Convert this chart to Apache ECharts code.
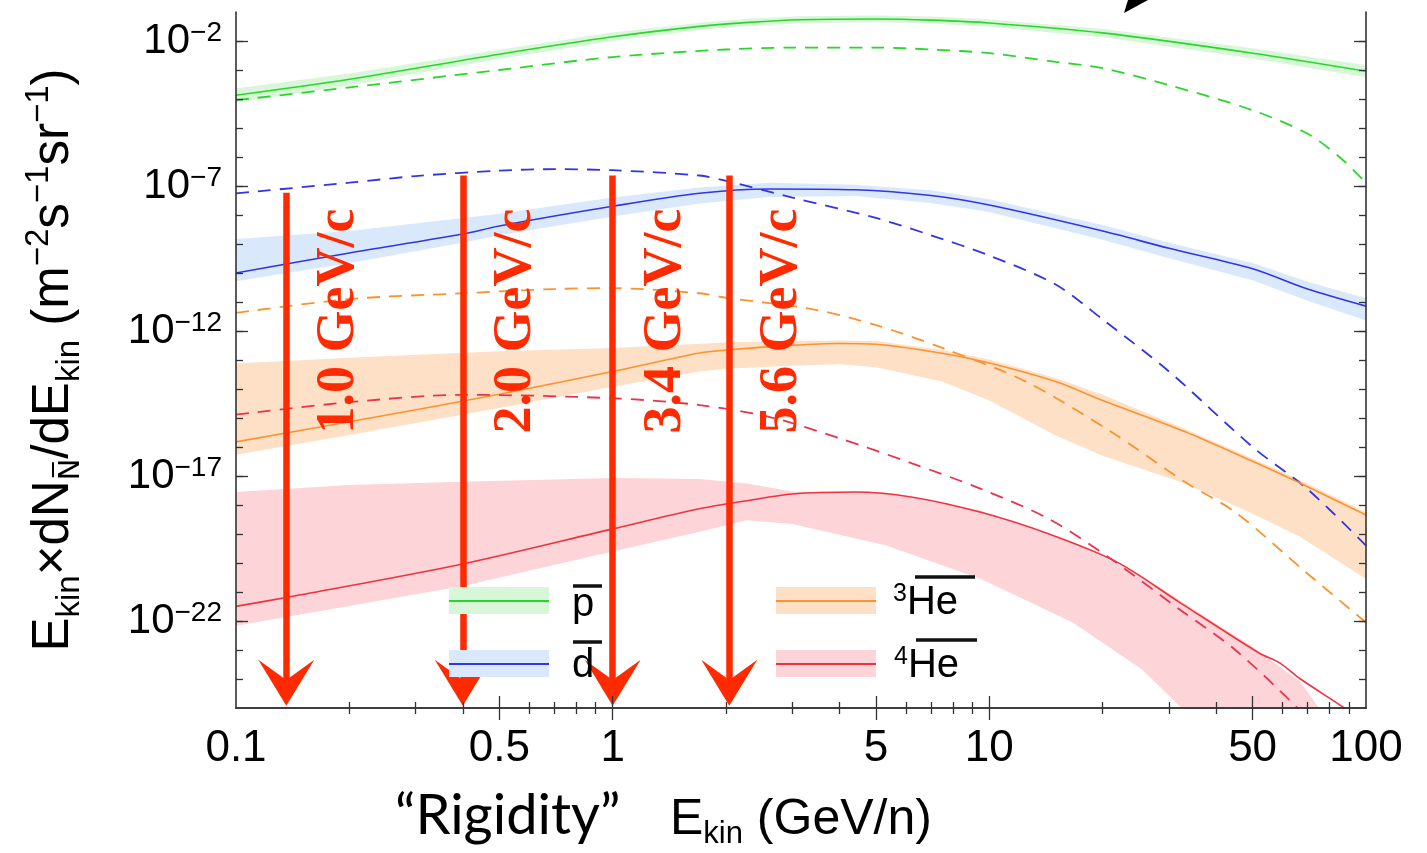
<!DOCTYPE html>
<html>
<head>
<meta charset="utf-8">
<title>Antinuclei flux</title>
<script src="https://cdn.jsdelivr.net/npm/echarts@6/dist/echarts.min.js"></script>
<style>
  html, body { margin: 0; padding: 0; background: #fff; }
  #chart { width: 1427px; height: 853px; }
</style>
</head>
<body>
<div id="chart"></div>
<script>
// ---- data (E_kin in GeV/n, flux in m^-2 s^-1 sr^-1) ----
// antiproton
const pbarE    = [0.1, 0.2, 0.5, 1, 1.7, 2.3, 3.14, 5, 7, 10, 20, 50, 100];
const pbarMain = [1.35e-4, 4.8e-4, 3.5e-3, 1.4e-2, 3.2e-2, 4.4e-2, 5.4e-2, 5.75e-2, 5.25e-2, 4.2e-2, 1.9e-2, 3.8e-3, 9.1e-4];
const pbarLo   = [7.6e-5, 3.0e-4, 2.4e-3, 1.0e-2, 2.4e-2, 3.3e-2, 4.1e-2, 4.4e-2, 4.0e-2, 3.1e-2, 1.35e-2, 2.5e-3, 5.6e-4];
const pbarHi   = [2.3e-4, 7.6e-4, 5.0e-3, 1.95e-2, 4.3e-2, 5.8e-2, 7.1e-2, 7.6e-2, 7.0e-2, 5.5e-2, 2.6e-2, 5.6e-3, 1.45e-3];
const pbarDashE = [0.1, 0.2, 0.5, 1, 2, 3, 5, 7, 10, 15, 20, 30, 50, 70, 85, 100];
const pbarDash  = [9.1e-5, 2.5e-4, 1.0e-3, 2.8e-3, 5.1e-3, 5.9e-3, 5.9e-3, 5.1e-3, 3.8e-3, 1.9e-3, 1.15e-3, 3.0e-4, 4.1e-5, 6.3e-6, 1.0e-6, 1.3e-7];

// antideuteron
const dbarE    = [0.1, 0.2, 0.4, 0.5, 1, 1.7, 2.6, 4.4, 7, 10, 20, 30, 50, 70, 100];
const dbarMain = [1.0e-10, 4.9e-10, 2.2e-9, 4.2e-9, 2.0e-8, 5.6e-8, 7.9e-8, 7.4e-8, 4.7e-8, 2.2e-8, 2.8e-9, 7.1e-10, 1.4e-10, 2.8e-11, 7.2e-12];
const dbarLo   = [5.2e-11, 2.2e-10, 1.1e-9, 2.0e-9, 8.9e-9, 2.5e-8, 4.2e-8, 4.5e-8, 2.6e-8, 1.26e-8, 1.4e-9, 3.2e-10, 5.6e-11, 1.1e-11, 2.3e-12];
const dbarHi   = [1.5e-9, 2.8e-9, 7.9e-9, 1.1e-8, 4.0e-8, 8.9e-8, 1.3e-7, 1.1e-7, 7.1e-8, 3.5e-8, 4.5e-9, 1.1e-9, 2.2e-10, 5.0e-11, 1.35e-11];
const dbarDashE = [0.1, 0.2, 0.3, 0.5, 0.7, 1, 1.7, 2, 3, 5, 7, 10, 15, 20, 30, 50, 70, 100];
const dbarDash  = [5.6e-8, 1.3e-7, 2.2e-7, 3.4e-7, 3.8e-7, 3.5e-7, 2.3e-7, 1.5e-7, 4.0e-8, 7.9e-9, 2.0e-9, 4.0e-10, 4.0e-11, 2.5e-12, 4.0e-14, 1.0e-16, 3.5e-18, 4.0e-20];

// antihelium-3
const he3E    = [0.1, 0.2, 0.5, 1, 1.7, 2, 3, 4, 5, 7.5, 10, 15, 20, 33, 50, 67, 100];
const he3Main = [1.5e-16, 7.4e-16, 6.6e-15, 4.0e-14, 1.74e-13, 2.2e-13, 3.2e-13, 3.7e-13, 3.5e-13, 1.7e-13, 7.9e-14, 1.8e-14, 4.0e-15, 3.4e-16, 3.2e-17, 5.6e-18, 4.5e-19];
const he3Lo   = [5.4e-17, 2.6e-16, 2.2e-15, 1.2e-14, 4.0e-14, 5.0e-14, 6.3e-14, 7.1e-14, 5.6e-14, 1.8e-14, 4.0e-15, 2.5e-16, 5.0e-17, 5.6e-18, 5.0e-19, 7.9e-20, 2.8e-21];
const he3Hi   = [7.6e-14, 1.2e-13, 2.0e-13, 2.6e-13, 3.6e-13, 4.0e-13, 4.5e-13, 4.7e-13, 4.5e-13, 2.2e-13, 1.05e-13, 2.4e-14, 6.3e-15, 4.3e-16, 4.0e-17, 7.1e-18, 5.6e-19];
const he3DashE = [0.1, 0.2, 0.4, 0.7, 1, 1.7, 2, 3.4, 5, 7.5, 12.5, 21, 33, 45, 69, 100];
const he3Dash  = [4.2e-12, 1.26e-11, 2.0e-11, 2.8e-11, 3.0e-11, 2.0e-11, 1.4e-11, 5.6e-12, 1.6e-12, 2.6e-13, 1.8e-14, 3.4e-16, 6.3e-18, 5.6e-19, 5.0e-21, 8.9e-23];

// antihelium-4
const he4E    = [0.1, 0.136, 0.4, 1, 1.7, 2.27, 3, 4.4, 6.2, 9.5, 14.4, 21.9, 32, 52, 59, 67, 90, 100];
const he4Main = [3.2e-22, 6.5e-22, 9.3e-21, 1.5e-19, 7.4e-19, 1.4e-18, 2.4e-18, 2.8e-18, 1.9e-18, 5.6e-19, 1.0e-19, 1.05e-20, 4.4e-22, 7.9e-24, 3.6e-24, 1.0e-24, 7.9e-26, 2.5e-26];
const he4BandE = [0.1, 0.2, 0.4, 1, 1.7, 2.27, 3, 5.3, 9.5, 16.7, 25.5, 33, 50, 67, 80];
const he4Lo    = [6.9e-23, 3.3e-22, 1.6e-21, 2.5e-20, 1.2e-19, 3.0e-19, 2.2e-19, 4.1e-20, 2.8e-21, 8.7e-23, 2.1e-24, 7.9e-26, 3.2e-28, 1e-30, 1e-31];
const he4Hi    = [2.8e-18, 4.9e-18, 6.3e-18, 8.5e-18, 7.9e-18, 5.5e-18, 2.9e-18, 2.7e-18, 6.3e-19, 5.0e-20, 3.5e-21, 4.0e-22, 1.26e-23, 7.9e-25, 3.0e-26];
const he4DashE = [0.1, 0.2, 0.4, 1, 1.7, 2.6, 4, 6.2, 9.5, 14.4, 21, 32, 45, 67, 100];
const he4Dash  = [1.3e-15, 3.5e-15, 6.3e-15, 4.8e-15, 2.8e-15, 1.1e-15, 2.0e-16, 2.8e-17, 3.6e-18, 3.3e-19, 1.4e-20, 2.5e-22, 1.0e-23, 7.9e-26, 3.2e-28];

// rigidity arrows (E_kin/n of 4He-bar at the given rigidity)
const arrowE      = [0.136, 0.40, 1.0, 2.04];
const arrowTop    = [5.9e-8, 2.3e-7, 2.3e-7, 2.3e-7];
const arrowEnd    = 7.4e-25;
const arrowLabelY = 2.2e-12;
const arrowLabels = ['1.0 GeV/c', '2.0 GeV/c', '3.4 GeV/c', '5.6 GeV/c'];

// ticks
const xLabelVals = [0.1, 0.5, 1, 5, 10, 50, 100];
const xMajorTicks = [0.5, 1, 5, 10, 50];
const xMinorTicks = [0.2, 0.3, 0.4, 0.6, 0.7, 0.8, 0.9, 2, 3, 4, 6, 7, 8, 9, 20, 30, 40, 60, 70, 80, 90];
const yLabelExps = [-2, -7, -12, -17, -22];
const yTickExps = [-24, -23, -22, -21, -20, -19, -18, -17, -16, -15, -14, -13, -12, -11, -10, -9, -8, -7, -6, -5, -4, -3, -2];

// ---- styles ----
const SANS = '"Liberation Sans", Arial, sans-serif';
const AX = '#333';
const RED_ARROW = '#ff2a00';
const ARROW_HEAD = 'path://M50,0 L100,100 L50,56 L0,100 Z';
const colors = {
  pbar: { line: '#2bd62b', band: '#d8f6d8' },
  dbar: { line: '#3434e2', band: '#d9e9fb' },
  he3:  { line: '#fa9330', band: '#fde0c6' },
  he4:  { line: '#ee3340', band: '#fdd4d7' }
};

const pow10 = e => Math.pow(10, e);
const zip = (xs, ys) => xs.map((x, i) => [x, ys[i]]);

function bandSeries(name, xs, lo, hi, fill) {
  return {
    type: 'custom',
    name: name,
    clip: true,
    silent: true,
    z: 1,
    data: xs.map((x, i) => [x, lo[i], hi[i]]),
    encode: { x: 0, y: [1, 2] },
    renderItem: function (params, api) {
      if (params.dataIndex !== 0) return null;
      const top = xs.map((x, i) => api.coord([x, hi[i]]));
      const bot = xs.map((x, i) => api.coord([x, lo[i]])).reverse();
      return {
        type: 'polygon',
        shape: { points: top.concat(bot) },
        style: { fill: fill, stroke: null }
      };
    }
  };
}

function lineSeries(name, xs, ys, color, dashed) {
  return {
    type: 'line',
    name: name,
    data: zip(xs, ys),
    showSymbol: false,
    smooth: 0.3,
    clip: true,
    z: 3,
    lineStyle: { color: color, width: dashed ? 1.8 : 1.6, type: dashed ? [13, 9] : 'solid' }
  };
}

function xAxisDef(position, ticks, len, withLabels) {
  return {
    type: 'log', logBase: 10, min: 0.1, max: 100, position: position, z: 10,
    axisLine: { show: len < 10, lineStyle: { color: AX, width: 1.6 } },
    axisTick: { show: true, inside: true, length: len, customValues: ticks, lineStyle: { color: AX, width: 1.3 } },
    axisLabel: withLabels ? {
      show: true, customValues: xLabelVals, margin: 19,
      fontFamily: SANS, fontSize: 44, color: '#000',
      formatter: v => String(v)
    } : { show: false },
    splitLine: { show: false }
  };
}

function yAxisDef(position, ticks, len, withLabels) {
  const ax = {
    type: 'log', logBase: 10, min: 1e-25, max: 1e-1, position: position, z: 10,
    axisLine: { show: len < 10, lineStyle: { color: AX, width: 1.6 } },
    axisTick: { show: true, inside: true, length: len, customValues: ticks, lineStyle: { color: AX, width: 1.3 } },
    axisLabel: { show: false },
    splitLine: { show: false }
  };
  if (withLabels) {
    ax.axisLabel = {
      show: true, customValues: yLabelExps.map(pow10), margin: 14,
      formatter: v => '{b|10}{s|\u2212' + Math.round(-Math.log10(v)) + '}',
      rich: {
        b: { fontFamily: SANS, fontSize: 42, color: '#000', lineHeight: 44, verticalAlign: 'middle' },
        s: { fontFamily: SANS, fontSize: 28, color: '#000', lineHeight: 26, verticalAlign: 'top' }
      }
    };
    ax.name = '{m|E}{sb|kin}{m|\u00d7dN}{sbo|N\u0305}{m|/dE}{sb|kin}{m| (m}{sp|\u22122}{m|s}{sp|\u22121}{m|sr}{sp|\u22121}{m|)}';
    ax.nameLocation = 'middle';
    ax.nameRotate = 90;
    ax.nameGap = 150;
    ax.nameTextStyle = {
      rich: {
        m: { fontFamily: SANS, fontSize: 51, color: '#000', lineHeight: 64, verticalAlign: 'middle' },
        sb: { fontFamily: SANS, fontSize: 33, color: '#000', lineHeight: 33, verticalAlign: 'bottom' },
        sbo: { fontFamily: '"DejaVu Sans", sans-serif', fontSize: 29, color: '#000', lineHeight: 33, verticalAlign: 'bottom' },
        sp: { fontFamily: SANS, fontSize: 33, color: '#000', lineHeight: 33, verticalAlign: 'top' }
      }
    };
  }
  return ax;
}

const chart = echarts.init(document.getElementById('chart'), null, { renderer: 'canvas' });

const option = {
  animation: false,
  backgroundColor: '#fff',
  grid: { left: 236, right: 61, top: 12, bottom: 145, containLabel: false },
  xAxis: [
    xAxisDef('bottom', xMinorTicks, 6, true),
    xAxisDef('bottom', xMajorTicks, 12, false),
    xAxisDef('top', xMinorTicks, 6, false),
    xAxisDef('top', xMajorTicks, 12, false)
  ],
  yAxis: [
    yAxisDef('left', yTickExps.map(pow10), 7, true),
    yAxisDef('left', yLabelExps.map(pow10), 12, false),
    yAxisDef('right', yTickExps.map(pow10), 7, false),
    yAxisDef('right', yLabelExps.map(pow10), 12, false)
  ],
  series: [
    bandSeries('pbar band', pbarE, pbarLo, pbarHi, colors.pbar.band),
    bandSeries('dbar band', dbarE, dbarLo, dbarHi, colors.dbar.band),
    bandSeries('3He band', he3E, he3Lo, he3Hi, colors.he3.band),
    bandSeries('4He band', he4BandE, he4Lo, he4Hi, colors.he4.band),
    lineSeries('pbar', pbarE, pbarMain, colors.pbar.line, false),
    lineSeries('pbar sec', pbarDashE, pbarDash, colors.pbar.line, true),
    lineSeries('dbar', dbarE, dbarMain, colors.dbar.line, false),
    lineSeries('dbar sec', dbarDashE, dbarDash, colors.dbar.line, true),
    lineSeries('3He', he3E, he3Main, colors.he3.line, false),
    lineSeries('3He sec', he3DashE, he3Dash, colors.he3.line, true),
    lineSeries('4He', he4E, he4Main, colors.he4.line, false),
    lineSeries('4He sec', he4DashE, he4Dash, '#e9334f', true),
    {
      type: 'line',
      name: 'rigidity',
      data: [],
      z: 20,
      markLine: {
        silent: true,
        animation: false,
        symbol: ['none', ARROW_HEAD],
        symbolSize: [56, 46],
        label: { show: false },
        lineStyle: { color: RED_ARROW, width: 6.5, type: 'solid' },
        itemStyle: { color: RED_ARROW },
        emphasis: { disabled: true },
        data: arrowE.map((e, i) => [{ coord: [e, arrowTop[i]] }, { coord: [e, arrowEnd] }])
      }
    }
  ]
};

chart.setOption(option);

// ---- legend, titles and annotations ----
function legendEntry(x, y, c) {
  return [
    { type: 'rect', z: 5, shape: { x: x, y: y - 14, width: 100, height: 27 }, style: { fill: c.band } },
    { type: 'line', z: 6, shape: { x1: x, y1: y, x2: x + 100, y2: y }, style: { stroke: c.line, lineWidth: 2.2 } }
  ];
}
function overbar(x1, x2, y) {
  return { type: 'line', z: 6, shape: { x1: x1, y1: y, x2: x2, y2: y }, style: { stroke: '#111', lineWidth: 3.5 } };
}
const legendFont = '40px ' + SANS;
const heRich = {
  s: { font: '25px ' + SANS, fill: '#000', verticalAlign: 'top', lineHeight: 24 },
  m: { font: legendFont, fill: '#000', lineHeight: 42, verticalAlign: 'middle' }
};

let elements = [].concat(
  legendEntry(449, 601, colors.pbar),
  legendEntry(449, 664, colors.dbar),
  legendEntry(776, 601, colors.he3),
  legendEntry(776, 664, colors.he4),
  [
    { type: 'text', z: 6, x: 572, y: 605, style: { text: 'p', font: legendFont, fill: '#000', verticalAlign: 'middle' } },
    overbar(573, 602, 586),
    { type: 'text', z: 6, x: 572, y: 666, style: { text: 'd', font: legendFont, fill: '#000', verticalAlign: 'middle' } },
    overbar(573, 602, 642),
    { type: 'text', z: 6, x: 893, y: 603, style: { text: '{s|3}{m|He}', verticalAlign: 'middle', rich: heRich } },
    overbar(915, 975, 577),
    { type: 'text', z: 6, x: 894, y: 666, style: { text: '{s|4}{m|He}', verticalAlign: 'middle', rich: heRich } },
    overbar(916, 977, 640),
    // x axis title
    { type: 'text', x: 395, y: 816, style: { text: '\u201cRigidity\u201d', font: '56px Lato, "Open Sans", sans-serif', fill: '#000', verticalAlign: 'middle' } },
    {
      type: 'text', x: 670, y: 820,
      style: {
        text: '{m|E}{sb|kin}{m| (GeV/n)}', verticalAlign: 'middle',
        rich: {
          m: { font: '50px ' + SANS, fill: '#000', lineHeight: 60, verticalAlign: 'middle' },
          sb: { font: '31px ' + SANS, fill: '#000', lineHeight: 31, verticalAlign: 'bottom' }
        }
      }
    },
    // arrowhead fragment at the top edge
    { type: 'polygon', shape: { points: [[1124, 13], [1128, 0], [1148, 0]] }, style: { fill: '#000' } }
  ]
);

arrowE.forEach((e, i) => {
  const p = chart.convertToPixel({ xAxisIndex: 0, yAxisIndex: 0 }, [e, arrowLabelY]);
  elements.push({
    type: 'text', z: 30, x: p[0] + 53, y: p[1], rotation: Math.PI / 2,
    style: {
      text: arrowLabels[i], font: 'bold 54px "Liberation Serif", "Times New Roman", serif',
      fill: RED_ARROW, align: 'center', verticalAlign: 'middle'
    }
  });
});

chart.setOption({ graphic: { elements: elements } });

window.addEventListener('resize', () => chart.resize());
</script>
</body>
</html>
